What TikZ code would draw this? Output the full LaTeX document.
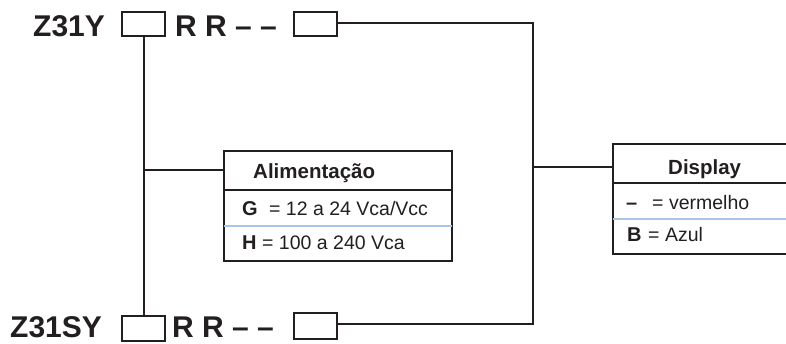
\documentclass[tikz,border=0pt]{standalone}
\usepackage{fontspec}
\setmainfont{Liberation Sans}
\definecolor{ink}{HTML}{231F20}
\definecolor{sepblue}{HTML}{A9C5E6}
\begin{document}
\begin{tikzpicture}[x=1pt,y=-1pt,
  slot/.style={draw=ink, line width=2pt, fill=white, minimum width=43pt, minimum height=24pt, inner sep=0pt},
  tabbox/.style={draw=ink, line width=2pt, inner sep=0pt},
  big/.style={font=\bfseries\fontsize{30}{30}\selectfont, text=ink, inner sep=0pt, anchor=base west},
  head/.style={font=\bfseries\fontsize{20.5}{21}\selectfont, text=ink, inner sep=0pt, anchor=base west},
  rowkey/.style={font=\bfseries\fontsize{20}{21}\selectfont, text=ink, inner sep=0pt, anchor=base west},
  rowtxt/.style={font=\fontsize{19.5}{21}\selectfont, text=ink, inner sep=0pt, anchor=base west},
  wire/.style={draw=ink, line width=2pt},
  darksep/.style={draw=ink, line width=1.6pt},
  lightsep/.style={draw=sepblue, line width=1.4pt}]
\useasboundingbox (0,0) rectangle (786,344);
\fill[white] (0,0) rectangle (786,344);

% top code
\node[big] (tz) at (33,37) {Z31Y};
\node[slot] (tb1) at (143.5,24) {};
\node[big] (tr) at (175,37) {R R – –};
\node[slot] (tb2) at (315.5,24) {};

% bottom code
\node[big] (bz) at (10,337) {Z31SY};
\node[slot, minimum height=25pt] (bb1) at (143.5,328) {};
\node[big] (br) at (172,337) {R R – –};
\node[slot, minimum height=26pt] (bb2) at (315.5,326) {};

% Alimentacao table
\node[tabbox, minimum width=228pt, minimum height=110pt] (alim) at (338,206) {};
\draw[darksep] (alim.west |- 0,190) -- (alim.east |- 0,190);
\draw[lightsep] ([xshift=1pt]alim.west |- 0,226) -- ([xshift=-1pt]alim.east |- 0,226);
\node[head] (ahead) at (253,179) {Alimentação};
\node[rowkey] (gk) at (242,216) {G};
\node[rowtxt] (gt) at (269,216) {= 12 a 24 Vca/Vcc};
\node[rowkey] (hk) at (242,250) {H};
\node[rowtxt] (ht) at (262,250) {= 100 a 240 Vca};

% Display table
\node[tabbox, minimum width=190pt, minimum height=110pt] (disp) at (708,199) {};
\draw[darksep] (disp.west |- 0,183) -- (disp.east |- 0,183);
\draw[lightsep] ([xshift=1pt]disp.west |- 0,219) -- (disp.east |- 0,219);
\node[head] (dhead) at (668,175) {Display};
\node[rowkey] (dk1) at (626,210) {–};
\node[rowtxt] (dt1) at (652,210) {= vermelho};
\node[rowkey] (dk2) at (627,242) {B};
\node[rowtxt] (dt2) at (648,242) {= Azul};

% connectors
\coordinate (lmid) at (143.5,170);
\coordinate (rtop) at (533,23);
\coordinate (rbot) at (533,324);
\coordinate (rmid) at (533,167);
\draw[wire] (tb1.south) -- (bb1.north);
\draw[wire] (lmid) -- (alim.west |- lmid);
\draw[wire] (tb2.east |- rtop) -- (rtop) -- (rbot) -- (bb2.east |- rbot);
\draw[wire] (rmid) -- (disp.west |- rmid);
\end{tikzpicture}
\end{document}
